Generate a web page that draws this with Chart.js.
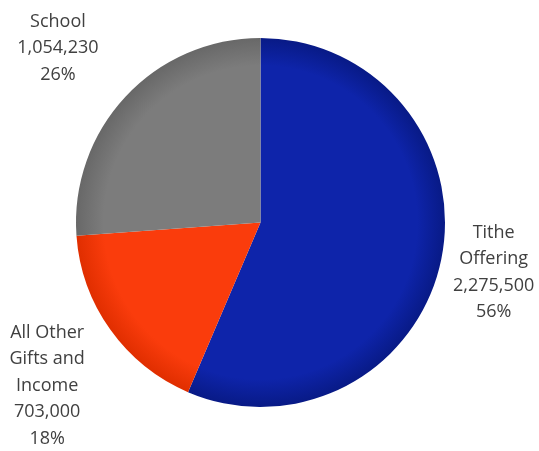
<!DOCTYPE html>
<html>
<head>
<meta charset="utf-8">
<script src="https://cdn.jsdelivr.net/npm/chart.js@4"></script>
<style>
  body { margin: 0; background: #fff; }
  canvas { display: block; }
</style>
</head>
<body>
<canvas id="chart" width="539" height="451"></canvas>
<script>
const categories = [["Tithe", "Offering"], ["All Other", "Gifts and", "Income"], ["School"]];
const values = [2275500, 703000, 1054230];

// inner / outer colour of each slice
const sliceColors = [
  ["#0e24aa", "#081a86"],
  ["#fa3c0c", "#e02e00"],
  ["#7c7c7c", "#686868"],
];

// where each label block sits: multiple of the radius, extra vertical shift
const labelDistance = [1.29, 1.42, 1.5];
const labelShift = [2, 11, 14];

const sliceFill = (context) => {
  const chart = context.chart;
  const area = chart.chartArea;
  if (!area) return sliceColors[context.dataIndex][0];
  const cx = (area.left + area.right) / 2;
  const cy = (area.top + area.bottom) / 2;
  const r = Math.min(area.right - area.left, area.bottom - area.top) / 2;
  const g = chart.ctx.createRadialGradient(cx, cy, 0, cx, cy, r);
  const c = sliceColors[context.dataIndex];
  g.addColorStop(0, c[0]);
  g.addColorStop(0.85, c[0]);
  g.addColorStop(1, c[1]);
  return g;
};

// whole percentages that add up to 100 (largest remainder)
const percents = (data) => {
  const total = data.reduce((a, b) => a + b, 0);
  const raw = data.map((v) => (v / total) * 100);
  const out = raw.map(Math.floor);
  let left = 100 - out.reduce((a, b) => a + b, 0);
  raw
    .map((v, i) => [v - Math.floor(v), i])
    .sort((a, b) => b[0] - a[0])
    .forEach(([, i]) => {
      if (left > 0) {
        out[i] += 1;
        left -= 1;
      }
    });
  return out;
};

const outsideLabels = {
  id: "outsideLabels",
  afterDatasetsDraw(chart) {
    const ctx = chart.ctx;
    const data = chart.data.datasets[0].data;
    const pct = percents(data);
    const lineHeight = 26.5;
    ctx.save();
    ctx.font = "18px 'Open Sans'";
    ctx.fillStyle = "#404040";
    ctx.textAlign = "center";
    ctx.textBaseline = "middle";
    chart.getDatasetMeta(0).data.forEach((arc, i) => {
      const p = arc.getProps(["x", "y", "startAngle", "endAngle", "outerRadius"], true);
      const mid = (p.startAngle + p.endAngle) / 2;
      const d = p.outerRadius * labelDistance[i];
      const x = p.x + Math.cos(mid) * d;
      const y = p.y + Math.sin(mid) * d + labelShift[i];
      const lines = categories[i].concat([data[i].toLocaleString("en-US"), pct[i] + "%"]);
      const top = y - ((lines.length - 1) * lineHeight) / 2;
      lines.forEach((t, k) => ctx.fillText(t, x, top + k * lineHeight));
    });
    ctx.restore();
  },
};

new Chart(document.getElementById("chart"), {
  type: "pie",
  data: {
    labels: categories,
    datasets: [
      {
        data: values,
        backgroundColor: sliceFill,
        borderWidth: 0,
      },
    ],
  },
  options: {
    responsive: false,
    animation: false,
    layout: {
      padding: { left: 76, right: 94, top: 38, bottom: 44 },
    },
    plugins: {
      legend: { display: false },
      tooltip: { enabled: false },
    },
  },
  plugins: [outsideLabels],
});
</script>
</body>
</html>
